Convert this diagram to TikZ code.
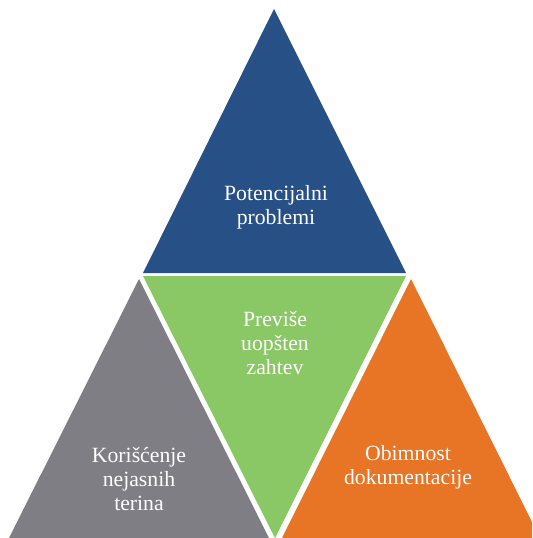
\documentclass[tikz,border=0pt]{standalone}
\usepackage{tikz}
\usepackage{color}
\usepackage{fontspec}
\setmainfont{Liberation Serif}

\definecolor{topblue}{RGB}{39,80,134}
\definecolor{midgreen}{RGB}{138,199,101}
\definecolor{leftgray}{RGB}{126,126,132}
\definecolor{rightorange}{RGB}{232,116,37}

\tikzset{
	label/.style={text=white,align=center,font=\fontsize{16.3}{17.8}\selectfont},
}

\begin{document}
\begin{tikzpicture}[x=0.75pt,y=-0.75pt]
		\useasboundingbox (0,0) rectangle (532,538);
		\clip (0,0) rectangle (532,538);
		\fill[topblue] (274,9) -- (143,273) -- (406,273) -- cycle;
		\fill[midgreen] (143,276) -- (406,276) -- (275,538) -- cycle;
		\fill[leftgray] (139,279) -- (9,538) -- (269,538) -- cycle;
		\fill[rightorange] (411,279) -- (282,538) -- (540,538) -- cycle;
		\node[label] (problemi) at (276,207) {Potencijalni\\problemi};
		\node[label] (zahtev) at (275,343) {Previše\\uopšten\\zahtev};
		\node[label] (terina) at (139,479) {Korišćenje\\nejasnih\\terina};
		\node[label] (dokumentacija) at (408,467) {Obimnost\\dokumentacije};
	\end{tikzpicture}
\end{document}
